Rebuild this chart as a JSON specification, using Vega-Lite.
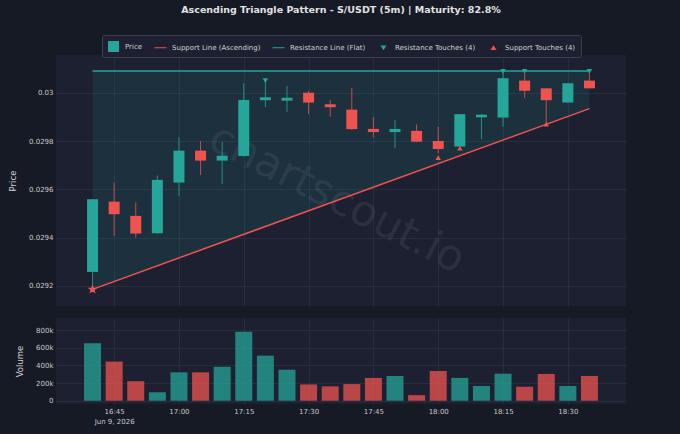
{
  "$schema": "https://vega.github.io/schema/vega-lite/v6.json",
  "padding": {"left": 8, "top": 5, "right": 54, "bottom": 10},
  "background": "#161a25",
  "title": {
    "text": "Ascending Triangle Pattern - S/USDT (5m) | Maturity: 82.8%",
    "anchor": "middle",
    "frame": "group",
    "offset": 20,
    "font": "DejaVu Sans",
    "fontSize": 9.5,
    "fontWeight": "bold",
    "color": "#e2e2e2"
  },
  "config": {
    "view": {"fill": "#1c2030", "stroke": null},
    "font": "DejaVu Sans",
    "axis": {
      "labelFont": "DejaVu Sans",
      "labelFontSize": 7,
      "labelColor": "#c8c8c8",
      "titleFont": "DejaVu Sans",
      "titleFontSize": 8.5,
      "titleFontWeight": "normal",
      "titleColor": "#d0d0d0",
      "gridColor": "#2c3141",
      "gridWidth": 0.8,
      "domain": false,
      "ticks": false,
      "labelPadding": 3
    }
  },
  "datasets": {
    "candles": [
      {"t": "2026-06-09T16:40:00", "open": 0.029258, "high": 0.029560, "low": 0.029195, "close": 0.029559, "volume": 652000},
      {"t": "2026-06-09T16:45:00", "open": 0.029549, "high": 0.029628, "low": 0.029408, "close": 0.029497, "volume": 444000},
      {"t": "2026-06-09T16:50:00", "open": 0.029490, "high": 0.029546, "low": 0.029400, "close": 0.029417, "volume": 222000},
      {"t": "2026-06-09T16:55:00", "open": 0.029418, "high": 0.029657, "low": 0.029416, "close": 0.029639, "volume": 96000},
      {"t": "2026-06-09T17:00:00", "open": 0.029628, "high": 0.029815, "low": 0.029573, "close": 0.029760, "volume": 322000},
      {"t": "2026-06-09T17:05:00", "open": 0.029760, "high": 0.029800, "low": 0.029659, "close": 0.029719, "volume": 322000},
      {"t": "2026-06-09T17:10:00", "open": 0.029719, "high": 0.029797, "low": 0.029621, "close": 0.029739, "volume": 385000},
      {"t": "2026-06-09T17:15:00", "open": 0.029738, "high": 0.030039, "low": 0.029736, "close": 0.029970, "volume": 781000},
      {"t": "2026-06-09T17:20:00", "open": 0.029969, "high": 0.030045, "low": 0.029940, "close": 0.029981, "volume": 511000},
      {"t": "2026-06-09T17:25:00", "open": 0.029967, "high": 0.030028, "low": 0.029921, "close": 0.029979, "volume": 352000},
      {"t": "2026-06-09T17:30:00", "open": 0.030000, "high": 0.030007, "low": 0.029912, "close": 0.029959, "volume": 185000},
      {"t": "2026-06-09T17:35:00", "open": 0.029952, "high": 0.029970, "low": 0.029901, "close": 0.029940, "volume": 163000},
      {"t": "2026-06-09T17:40:00", "open": 0.029930, "high": 0.030019, "low": 0.029846, "close": 0.029849, "volume": 189000},
      {"t": "2026-06-09T17:45:00", "open": 0.029850, "high": 0.029898, "low": 0.029815, "close": 0.029837, "volume": 259000},
      {"t": "2026-06-09T17:50:00", "open": 0.029837, "high": 0.029887, "low": 0.029770, "close": 0.029850, "volume": 281000},
      {"t": "2026-06-09T17:55:00", "open": 0.029842, "high": 0.029869, "low": 0.029795, "close": 0.029797, "volume": 63000},
      {"t": "2026-06-09T18:00:00", "open": 0.029800, "high": 0.029859, "low": 0.029750, "close": 0.029767, "volume": 337000},
      {"t": "2026-06-09T18:05:00", "open": 0.029777, "high": 0.029911, "low": 0.029775, "close": 0.029911, "volume": 259000},
      {"t": "2026-06-09T18:10:00", "open": 0.029898, "high": 0.029910, "low": 0.029808, "close": 0.029909, "volume": 167000},
      {"t": "2026-06-09T18:15:00", "open": 0.029897, "high": 0.030085, "low": 0.029859, "close": 0.030060, "volume": 307000},
      {"t": "2026-06-09T18:20:00", "open": 0.030050, "high": 0.030080, "low": 0.029979, "close": 0.030008, "volume": 159000},
      {"t": "2026-06-09T18:25:00", "open": 0.030018, "high": 0.030020, "low": 0.029869, "close": 0.029969, "volume": 304000},
      {"t": "2026-06-09T18:30:00", "open": 0.029959, "high": 0.030040, "low": 0.029958, "close": 0.030039, "volume": 167000},
      {"t": "2026-06-09T18:35:00", "open": 0.030050, "high": 0.030080, "low": 0.030018, "close": 0.030018, "volume": 281000}
    ],
    "pattern": [
      {"t": "2026-06-09T16:40:00", "support": 0.029186, "resistance": 0.03009},
      {"t": "2026-06-09T18:35:00", "support": 0.029934, "resistance": 0.03009}
    ],
    "start": [
      {"t": "2026-06-09T16:40:00", "price": 0.029186}
    ],
    "touches": [
      {"t": "2026-06-09T17:20:00", "price": 0.030050, "kind": "resistance"},
      {"t": "2026-06-09T18:15:00", "price": 0.030088, "kind": "resistance"},
      {"t": "2026-06-09T18:20:00", "price": 0.030088, "kind": "resistance"},
      {"t": "2026-06-09T18:35:00", "price": 0.030088, "kind": "resistance"},
      {"t": "2026-06-09T16:40:00", "price": 0.029186, "kind": "support"},
      {"t": "2026-06-09T18:00:00", "price": 0.029731, "kind": "support"},
      {"t": "2026-06-09T18:05:00", "price": 0.029770, "kind": "support"},
      {"t": "2026-06-09T18:25:00", "price": 0.029870, "kind": "support"}
    ],
    "keys": [
      {"series": "Price", "t": "2026-06-09T17:00:00", "price": 0.02},
      {"series": "Support Line (Ascending)", "t": "2026-06-09T17:00:00", "price": 0.02},
      {"series": "Resistance Line (Flat)", "t": "2026-06-09T17:00:00", "price": 0.02},
      {"series": "Resistance Touches (4)", "t": "2026-06-09T17:00:00", "price": 0.02},
      {"series": "Support Touches (4)", "t": "2026-06-09T17:00:00", "price": 0.02}
    ],
    "watermark": [
      {"label": "chartscout.io", "t": "2026-06-09T17:36:30", "price": 0.02956}
    ]
  },
  "vconcat": [
    {
      "width": 570,
      "height": 251,
      "layer": [
        {
          "data": {"name": "pattern"},
          "mark": {"type": "area", "color": "#26a69a", "opacity": 0.13},
          "encoding": {
            "x": {"field": "t", "type": "temporal", "scale": {"domain": [{"year": 2026, "month": 6, "date": 9, "hours": 16, "minutes": 32, "seconds": 42}, {"year": 2026, "month": 6, "date": 9, "hours": 18, "minutes": 42, "seconds": 18}], "nice": false}, "axis": {"title": null, "labels": false, "grid": true, "values": [{"year": 2026, "month": 6, "date": 9, "hours": 16, "minutes": 45}, {"year": 2026, "month": 6, "date": 9, "hours": 17, "minutes": 0}, {"year": 2026, "month": 6, "date": 9, "hours": 17, "minutes": 15}, {"year": 2026, "month": 6, "date": 9, "hours": 17, "minutes": 30}, {"year": 2026, "month": 6, "date": 9, "hours": 17, "minutes": 45}, {"year": 2026, "month": 6, "date": 9, "hours": 18, "minutes": 0}, {"year": 2026, "month": 6, "date": 9, "hours": 18, "minutes": 15}, {"year": 2026, "month": 6, "date": 9, "hours": 18, "minutes": 30}]}},
            "y": {"field": "resistance", "type": "quantitative", "scale": {"domain": [0.029117, 0.030156], "nice": false, "zero": false}, "axis": {"title": "Price", "values": [0.0292, 0.0294, 0.0296, 0.0298, 0.03], "labelExpr": "format(datum.value, '.4~f')", "titleX": -44, "titleBaseline": "middle"}},
            "y2": {"field": "support"}
          }
        },
        {
          "data": {"name": "watermark"},
          "mark": {"type": "text", "angle": 27, "fontSize": 43, "font": "DejaVu Sans", "color": "#9499a6", "opacity": 0.12, "align": "center", "baseline": "middle"},
          "encoding": {
            "x": {"field": "t", "type": "temporal"},
            "y": {"field": "price", "type": "quantitative"},
            "text": {"field": "label"}
          }
        },
        {
          "data": {"name": "candles"},
          "mark": {"type": "rule", "strokeWidth": 1, "opacity": 0.8},
          "encoding": {
            "x": {"field": "t", "type": "temporal"},
            "y": {"field": "low", "type": "quantitative"},
            "y2": {"field": "high"},
            "color": {"condition": {"test": "datum.close >= datum.open", "value": "#26a69a"}, "value": "#ef5350"}
          }
        },
        {
          "data": {"name": "candles"},
          "mark": {"type": "bar", "size": 11},
          "encoding": {
            "x": {"field": "t", "type": "temporal"},
            "y": {"field": "open", "type": "quantitative"},
            "y2": {"field": "close"},
            "color": {"condition": {"test": "datum.close >= datum.open", "value": "#26a69a"}, "value": "#ef5350"}
          }
        },
        {
          "data": {"name": "pattern"},
          "mark": {"type": "line", "color": "#26a69a", "strokeWidth": 1.5},
          "encoding": {
            "x": {"field": "t", "type": "temporal"},
            "y": {"field": "resistance", "type": "quantitative"}
          }
        },
        {
          "data": {"name": "pattern"},
          "mark": {"type": "line", "color": "#ef5350", "strokeWidth": 1.5},
          "encoding": {
            "x": {"field": "t", "type": "temporal"},
            "y": {"field": "support", "type": "quantitative"}
          }
        },
        {
          "data": {"name": "touches"},
          "transform": [{"filter": "datum.kind == 'resistance'"}],
          "mark": {"type": "point", "shape": "triangle-down", "filled": true, "size": 30, "color": "#26a69a", "opacity": 1},
          "encoding": {
            "x": {"field": "t", "type": "temporal"},
            "y": {"field": "price", "type": "quantitative"}
          }
        },
        {
          "data": {"name": "touches"},
          "transform": [{"filter": "datum.kind == 'support'"}],
          "mark": {"type": "point", "shape": "triangle-up", "filled": true, "size": 30, "color": "#ef5350", "opacity": 1},
          "encoding": {
            "x": {"field": "t", "type": "temporal"},
            "y": {"field": "price", "type": "quantitative"}
          }
        },
        {
          "data": {"name": "start"},
          "mark": {"type": "point", "shape": "M0,-1L0.235,-0.324L0.951,-0.309L0.38,0.124L0.588,0.809L0,0.4L-0.588,0.809L-0.38,0.124L-0.951,-0.309L-0.235,-0.324Z", "filled": true, "size": 110, "color": "#ef5350", "opacity": 1},
          "encoding": {
            "x": {"field": "t", "type": "temporal"},
            "y": {"field": "price", "type": "quantitative"}
          }
        },
        {
          "data": {"name": "keys"},
          "mark": {"type": "point", "filled": true, "opacity": 1, "clip": true},
          "encoding": {
            "x": {"field": "t", "type": "temporal"},
            "y": {"field": "price", "type": "quantitative"},
            "color": {
              "field": "series", "type": "nominal",
              "scale": {"domain": ["Price", "Support Line (Ascending)", "Resistance Line (Flat)", "Resistance Touches (4)", "Support Touches (4)"], "range": ["#26a69a", "#ef5350", "#26a69a", "#26a69a", "#ef5350"]},
              "legend": {"orient": "none", "legendX": 46, "legendY": -20, "direction": "horizontal", "columns": 5, "title": null, "fillColor": "#1c2030", "strokeColor": "#3c4150", "padding": 5, "cornerRadius": 2, "labelColor": "#d0d0d0", "labelFontSize": 7, "labelFont": "DejaVu Sans", "columnPadding": 11, "labelOffset": 5, "symbolSize": 120}
            },
            "shape": {
              "field": "series", "type": "nominal",
              "scale": {"domain": ["Price", "Support Line (Ascending)", "Resistance Line (Flat)", "Resistance Touches (4)", "Support Touches (4)"], "range": ["square", "M-1.1,-0.09L1.1,-0.09L1.1,0.09L-1.1,0.09Z", "M-1.1,-0.09L1.1,-0.09L1.1,0.09L-1.1,0.09Z", "M-0.55,-0.4L0.55,-0.4L0,0.45Z", "M-0.55,0.4L0.55,0.4L0,-0.45Z"]}
            }
          }
        }
      ]
    },
    {
      "width": 570,
      "height": 86,
      "data": {"name": "candles"},
      "mark": {"type": "bar", "size": 17, "opacity": 0.75},
      "encoding": {
        "x": {"field": "t", "type": "temporal", "scale": {"domain": [{"year": 2026, "month": 6, "date": 9, "hours": 16, "minutes": 32, "seconds": 42}, {"year": 2026, "month": 6, "date": 9, "hours": 18, "minutes": 42, "seconds": 18}], "nice": false}, "axis": {"title": null, "grid": true, "values": [{"year": 2026, "month": 6, "date": 9, "hours": 16, "minutes": 45}, {"year": 2026, "month": 6, "date": 9, "hours": 17, "minutes": 0}, {"year": 2026, "month": 6, "date": 9, "hours": 17, "minutes": 15}, {"year": 2026, "month": 6, "date": 9, "hours": 17, "minutes": 30}, {"year": 2026, "month": 6, "date": 9, "hours": 17, "minutes": 45}, {"year": 2026, "month": 6, "date": 9, "hours": 18, "minutes": 0}, {"year": 2026, "month": 6, "date": 9, "hours": 18, "minutes": 15}, {"year": 2026, "month": 6, "date": 9, "hours": 18, "minutes": 30}], "labelExpr": "timeFormat(datum.value, '%H:%M') == '16:45' ? ['16:45', 'Jun 9, 2026'] : timeFormat(datum.value, '%H:%M')", "labelLineHeight": 10}},
        "y": {"field": "volume", "type": "quantitative", "scale": {"domain": [-37000, 938000], "nice": false, "zero": false}, "axis": {"title": "Volume", "values": [0, 200000, 400000, 600000, 800000], "labelExpr": "datum.value == 0 ? '0' : format(datum.value, '~s')", "titleX": -37, "titleBaseline": "middle"}},
        "color": {"condition": {"test": "datum.close >= datum.open", "value": "#26a69a"}, "value": "#ef5350"}
      }
    }
  ],
  "spacing": 12,
  "bounds": "flush"
}
